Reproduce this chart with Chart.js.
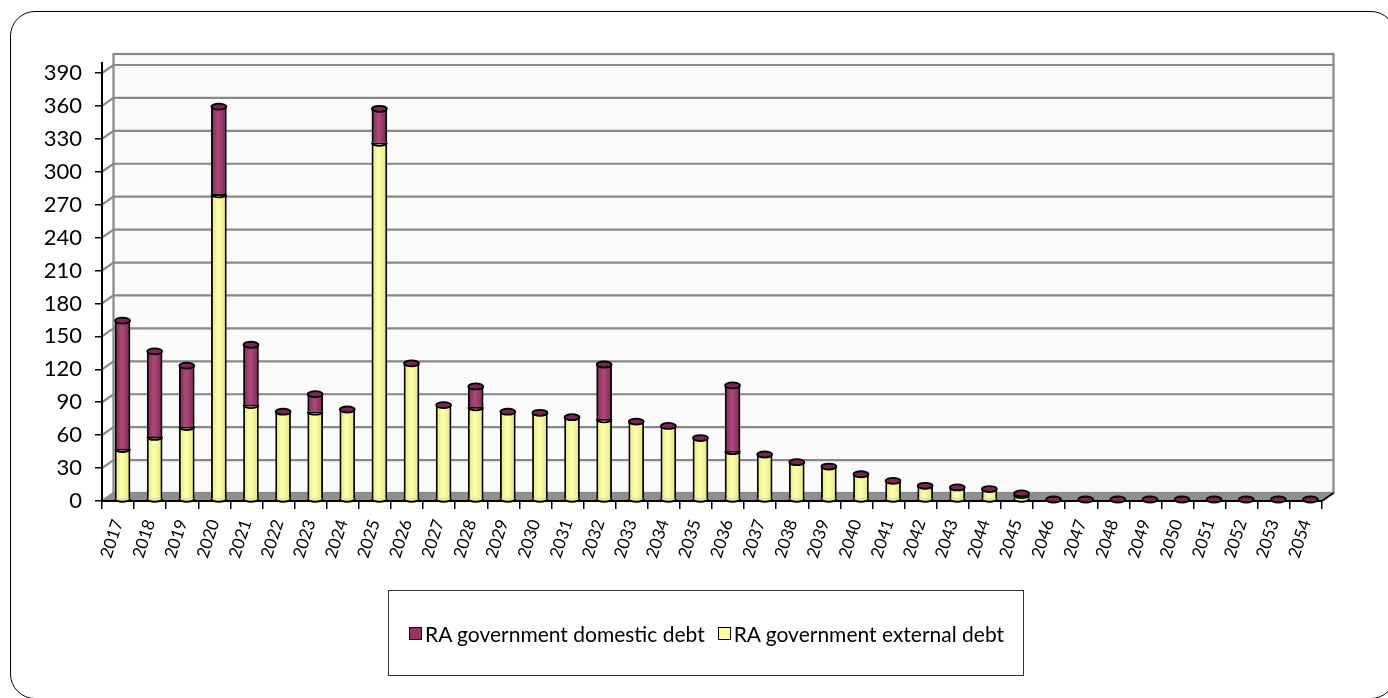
<!DOCTYPE html>
<html>
<head>
<meta charset="utf-8">
<script src="https://cdn.jsdelivr.net/npm/chart.js@4.4.1/dist/chart.umd.min.js"></script>
<style>
  html, body { margin: 0; padding: 0; background: #fff; }
  #wrap { position: relative; width: 1388px; height: 698px; overflow: hidden; }
  #frame { position: absolute; left: 10px; top: 11px; width: 1386px; height: 688px;
           border: 1.5px solid #000; border-radius: 25px; box-sizing: border-box; }
  #chart { position: absolute; left: 0; top: 0; }
  #legend { position: absolute; left: 388px; top: 590px; width: 636px; height: 86px;
            border: 1px solid #333; box-sizing: border-box; display: flex; align-items: center;
            padding-left: 20px; font-family: Lato, "Noto Sans", sans-serif; font-size: 21px; color: #000; }
  #legend .item { display: flex; align-items: center; margin-right: 13px; }
  #legend .sw { width: 11px; height: 11px; border: 1.5px solid #000; margin-right: 3px; }
</style>
</head>
<body>
<div id="wrap">
  <div id="frame"></div>
  <canvas id="chart" width="1388" height="698"></canvas>
  <div id="legend"></div>
</div>
<script>
var years = ['2017','2018','2019','2020','2021','2022','2023','2024','2025','2026',
  '2027','2028','2029','2030','2031','2032','2033','2034','2035','2036',
  '2037','2038','2039','2040','2041','2042','2043','2044','2045','2046',
  '2047','2048','2049','2050','2051','2052','2053','2054'];

var externalDebt = [46, 57, 66, 278, 86, 80, 80, 82, 325, 124,
  86, 84, 80, 79, 75, 73, 71, 67, 56, 44,
  41, 34, 30, 23, 17, 12.5, 11, 9.5, 4, 0,
  0, 0, 0, 0, 0, 0, 0, 0];

var domesticDebt = [117, 78, 56, 80, 55, 0, 16, 0, 31, 0,
  0, 19, 0, 0, 0, 50, 0, 0, 0, 60,
  0, 0, 0, 0, 0, 0, 0, 0, 1.5, 0,
  0, 0, 0, 0, 0, 0, 0, 0];

var yTicks = [0, 30, 60, 90, 120, 150, 180, 210, 240, 270, 300, 330, 360, 390];

var seriesNames = ['RA government domestic debt', 'RA government external debt'];
var seriesColors = ['#993366', '#ffff99'];

var FONT = 'Lato, "Noto Sans", sans-serif';
var DX = 11.5, DY = -8;      // depth of the back wall
var SX = 4.5, SY = -1.5;     // bars sit a bit behind the front axis

// legend (html, real text)
var legend = document.getElementById('legend');
seriesNames.forEach(function (name, i) {
  var item = document.createElement('div');
  item.className = 'item';
  item.innerHTML = '<span class="sw" style="background:' + seriesColors[i] + '"></span><span>' + name + '</span>';
  legend.appendChild(item);
});

function cylinder(dark, light) {
  return function (c) {
    var chart = c.chart, sx = chart.scales.x;
    if (c.type !== 'data' || !sx || !chart.chartArea) return light;
    var x = sx.getPixelForValue(c.dataIndex);
    var g = chart.ctx.createLinearGradient(x - 8, 0, x + 8, 0);
    g.addColorStop(0, dark);
    g.addColorStop(0.45, light);
    g.addColorStop(1, dark);
    return g;
  };
}

var wallPlugin = {
  id: 'wall',
  beforeDraw: function (chart) {
    var ctx = chart.ctx, a = chart.chartArea, y = chart.scales.y;
    var top = a.top + DY - 11;
    ctx.save();
    // back wall
    ctx.fillStyle = '#fafafa';
    ctx.fillRect(a.left + DX, top, a.right - a.left, a.bottom - top + DY);
    ctx.strokeStyle = '#888';
    ctx.lineWidth = 2.2;
    ctx.strokeRect(a.left + DX, top, a.right - a.left, a.bottom - top + DY);
    // gridlines on wall + diagonals to the front axis
    yTicks.forEach(function (v) {
      var py = y.getPixelForValue(v);
      ctx.beginPath();
      ctx.moveTo(a.left, py);
      ctx.lineTo(a.left + DX, py + DY);
      ctx.lineTo(a.right + DX, py + DY);
      ctx.stroke();
    });
    // floor
    ctx.fillStyle = '#8f8f8f';
    ctx.beginPath();
    ctx.moveTo(a.left, a.bottom);
    ctx.lineTo(a.right, a.bottom);
    ctx.lineTo(a.right + DX, a.bottom + DY);
    ctx.lineTo(a.left + DX, a.bottom + DY);
    ctx.closePath();
    ctx.fill();
    ctx.strokeStyle = '#000';
    ctx.lineWidth = 2;
    ctx.beginPath();
    ctx.moveTo(a.right, a.bottom);
    ctx.lineTo(a.right + DX, a.bottom + DY);
    ctx.stroke();
    // y axis line reaches a little above the top tick
    ctx.beginPath();
    ctx.moveTo(a.left, a.bottom);
    ctx.lineTo(a.left, a.top - 11);
    ctx.stroke();
    ctx.restore();
  },
  beforeDatasetsDraw: function (chart) {
    chart.ctx.save();
    chart.ctx.translate(SX, SY);
  },
  afterDatasetsDraw: function (chart) {
    var ctx = chart.ctx;
    var ext = chart.getDatasetMeta(0).data;
    var dom = chart.getDatasetMeta(1).data;
    ctx.lineWidth = 1.8;
    ctx.strokeStyle = '#000';
    for (var i = 0; i < ext.length; i++) {
      var b = ext[i], d = dom[i];
      var rx = b.width / 2, ry = 3;
      // rounded bottom
      if (externalDebt[i] > 0) {
        ctx.fillStyle = '#f4f48a';
        ctx.beginPath();
        ctx.ellipse(b.x, b.base, rx, ry, 0, 0, Math.PI);
        ctx.fill();
        ctx.stroke();
      }
      // boundary between the two parts
      if (externalDebt[i] > 0 && domesticDebt[i] > 0) {
        ctx.beginPath();
        ctx.ellipse(b.x, b.y, rx, ry, 0, 0, Math.PI);
        ctx.stroke();
      }
      // cap
      ctx.fillStyle = '#7d2452';
      ctx.beginPath();
      ctx.ellipse(d.x, d.y, rx, ry, 0, 0, Math.PI * 2);
      ctx.fill();
      ctx.stroke();
    }
    ctx.restore();
  }
};

new Chart(document.getElementById('chart').getContext('2d'), {
  type: 'bar',
  data: {
    labels: years,
    datasets: [{
      label: seriesNames[1],
      data: externalDebt,
      backgroundColor: cylinder('#e2e27a', '#ffffb0'),
      borderColor: '#000',
      borderWidth: 1.8,
      barThickness: 15
    }, {
      label: seriesNames[0],
      data: domesticDebt,
      backgroundColor: cylinder('#7a2650', '#ad4a7f'),
      borderColor: '#000',
      borderWidth: 1.8,
      barThickness: 15
    }]
  },
  options: {
    responsive: false,
    animation: false,
    layout: { padding: { top: 73, left: 0, right: 66, bottom: 127 } },
    plugins: { legend: { display: false }, tooltip: { enabled: false } },
    scales: {
      x: {
        stacked: true,
        grid: { offset: true, drawOnChartArea: false, tickLength: 8, color: '#000', lineWidth: 1.5 },
        border: { color: '#000', width: 2 },
        ticks: { autoSkip: false, maxRotation: 72, minRotation: 72, padding: 8, color: '#000',
                 font: { family: FONT, size: 17 } },
        afterFit: function (s) { s.height = 70; }
      },
      y: {
        stacked: true,
        min: 0,
        max: 390,
        grid: { drawOnChartArea: false, tickLength: 7, color: '#000', lineWidth: 1.5 },
        border: { color: '#000', width: 2 },
        ticks: { stepSize: 30, padding: 13, color: '#000', font: { family: FONT, size: 22 } },
        afterFit: function (s) { s.width = 102; }
      }
    }
  },
  plugins: [wallPlugin]
});
</script>
</body>
</html>
